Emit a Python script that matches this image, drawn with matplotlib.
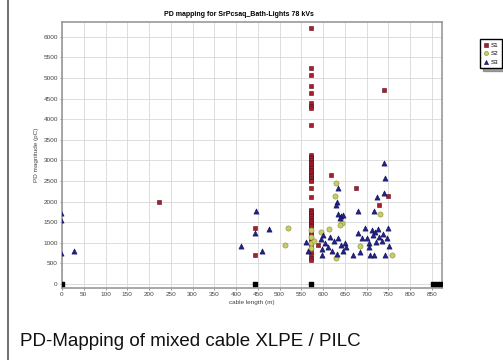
import matplotlib
matplotlib.use("Agg")
import matplotlib.pyplot as plt
from matplotlib.lines import Line2D

plt.rcParams['font.family'] = ['Liberation Sans', 'DejaVu Sans']

# S1 - red squares
s1_x = [572] * 49 + [223, 444, 444, 618, 676, 750, 729, 740, 588]
s1_y = [6210, 5240, 5070, 4810, 4640, 4400, 4330, 4270, 3860,
        3130, 3090, 3050, 3010, 2970, 2930, 2890, 2850, 2810, 2770,
        2730, 2690, 2650, 2610, 2570, 2530, 2490, 2330, 2110,
        1800, 1760, 1720, 1680, 1640, 1600, 1560, 1520, 1480, 1440, 1400,
        1260, 1180, 1100, 1020, 940, 860, 780, 700, 620, 580,
        1990, 1360, 700, 2646, 2330, 2136, 1917, 4710, 947]

# S2 - yellow circles
s2_x = [520, 513, 595, 614, 630, 628, 644, 630, 685, 731, 758, 639,
        572, 572, 572, 572, 580]
s2_y = [1360, 947, 1262, 1335, 2450, 2136, 1480, 630, 922, 1699, 700, 1430,
        1300, 1150, 1000, 880, 1050]

# S3 - blue triangles
s3_x = [-3, -3, -3, 28, 411, 446, 444, 476, 460, 561, 600, 598,
        634, 632, 630, 740, 743, 740, 724, 717, 680, 635, 640, 645, 638,
        634, 669, 680, 697, 689, 685, 701, 706, 708, 717, 712, 720, 725,
        715, 728, 735, 722, 705, 738, 742, 750, 752, 747,
        595, 605, 612, 620, 598, 625, 640, 645, 632, 615, 650, 652, 566]
s3_y = [1720, 1560, 740, 800, 922, 1772, 1240, 1335, 800, 1020, 1190, 700,
        2330, 1990, 1917, 2940, 2560, 2210, 2112, 1772, 1772, 1700, 1640, 1680, 1600,
        1116, 700, 1240, 1360, 1116, 777, 1116, 898, 700, 700, 1300, 1250, 1330,
        1180, 1150, 1050, 1020, 1000, 1200, 700, 1360, 922, 1116,
        1100, 1000, 900, 800, 850, 1050, 950, 800, 720, 1140, 1000, 900, 800]

# cable end / joint markers
ends_x = [1, 444, 572, 852, 861, 870]
ends_y = [0, 0, 0, 0, 0, 0]

x_ticks = list(range(0, 851, 50))
y_ticks = list(range(0, 6001, 500))

fig = plt.figure(figsize=(5.03, 3.60), dpi=100)
ax = fig.add_axes([62 / 503, 1 - 288 / 360, 380 / 503, 266 / 360])

ax.scatter(s1_x, s1_y, marker='s', s=12, color='#a81e2c', edgecolors='#5a1018',
           linewidths=0.4, label='S1', zorder=3)
ax.scatter(s2_x, s2_y, marker='o', s=14, color='#c8cc66', edgecolors='#8a8c3a',
           linewidths=0.4, label='S2', zorder=3)
ax.scatter(s3_x, s3_y, marker='^', s=14, color='#22228c', edgecolors='#101050',
           linewidths=0.4, label='S3', zorder=3)
ax.scatter(ends_x, ends_y, marker='s', s=10, color='black', zorder=4)

ax.set_xlim(0, 873)
ax.set_ylim(-100, 6360)
ax.set_xticks(x_ticks)
ax.set_yticks(y_ticks)
ax.tick_params(labelsize=4.6, length=1.5, width=0.4, pad=1.5, colors='#444444')
ax.grid(True, color='#d8d8d8', linewidth=0.6)
ax.set_axisbelow(True)
for sp in ax.spines.values():
    sp.set_color('#999999')
    sp.set_linewidth(1.2)

ax.set_xlabel('cable length (m)', fontsize=4.6, color='#444444', labelpad=2)
ax.set_ylabel('PD magnitude (pC)', fontsize=4.6, color='#444444', labelpad=3)
fig.text(239 / 503, 1 - 14 / 360, 'PD mapping for SrPcsaq_Bath-Lights 78 kVs',
         fontsize=5, fontweight='bold', ha='center', va='center')

fig.legend(loc='upper left', bbox_to_anchor=(477 / 503, 1 - 36 / 360),
           fontsize=4.5, frameon=True, shadow=True, fancybox=False,
           edgecolor='black', markerscale=0.8, handlelength=0.8,
           handletextpad=0.4, borderpad=0.5, labelspacing=0.5)

fig.add_artist(Line2D([8 / 503, 8 / 503], [0, 1], color='#555555', linewidth=1.2))
fig.text(20 / 503, 1 - 341 / 360, 'PD-Mapping of mixed cable XLPE / PILC',
         fontsize=13.5, ha='left', va='center', color='#111111')

fig.savefig('out.png', dpi=100)
